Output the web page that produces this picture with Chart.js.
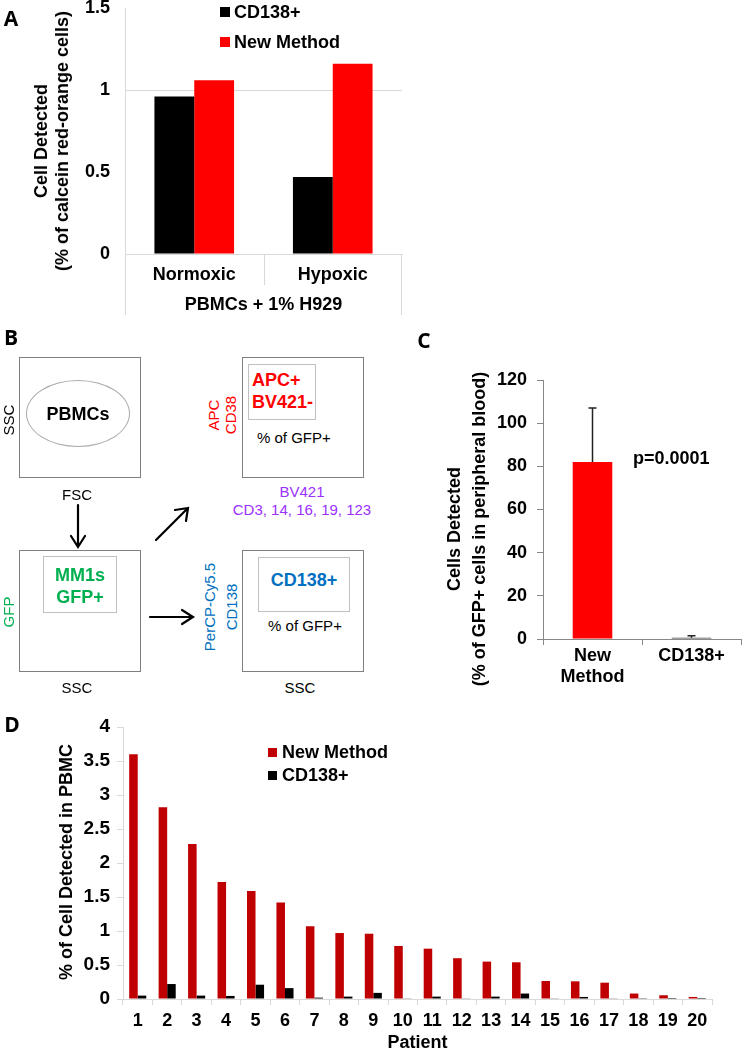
<!DOCTYPE html>
<html>
<head>
<meta charset="utf-8">
<script src="https://cdn.jsdelivr.net/npm/chart.js@4.4.1/dist/chart.umd.min.js"></script>
<style>
body { margin: 0; background: #fff; }
#page { position: relative; width: 743px; height: 1050px; overflow: hidden; background: #fff;
        font-family: 'Liberation Sans', Arial, sans-serif; color: #000; }
canvas { position: absolute; }
svg { position: absolute; left: 0; top: 0; }
.t { position: absolute; white-space: nowrap; line-height: 1; }
.b { font-weight: bold; font-size: 18px; }
.s { font-size: 15px; }
.c { transform: translate(-50%, -50%); text-align: center; }
.l { transform: translate(0, -50%); }
.r { transform: translate(-50%, -50%) rotate(-90deg); text-align: center; }
.letter { font-family: 'Open Sans', sans-serif; font-weight: bold; font-size: 21px; }
.box { position: absolute; border: 1.5px solid #7f7f7f; box-sizing: border-box; }
.gate { position: absolute; border: 1.5px solid #c0c0c0; box-sizing: border-box; }
.sw { position: absolute; width: 10px; height: 10px; }
</style>
</head>
<body>
<div id="page">
  <canvas id="chartA" width="410" height="340" style="left:0;top:-20px"></canvas>
  <canvas id="chartC" width="343" height="350" style="left:400px;top:350px"></canvas>
  <canvas id="chartD" width="743" height="356" style="left:0;top:700px"></canvas>

  <!-- panel letters -->
  <div class="t c letter" style="left:11px;top:18px">A</div>
  <div class="t c letter" style="left:11px;top:337px">B</div>
  <div class="t c letter" style="left:424px;top:340px">C</div>
  <div class="t c letter" style="left:12px;top:724px">D</div>

  <!-- A: axis title + legend -->
  <div class="t r b" style="left:52px;top:141px;line-height:21px">Cell Detected<br>(% of calcein red-orange cells)</div>
  <div class="sw" style="left:220px;top:7px;background:#000"></div>
  <div class="t l b" style="left:234px;top:12px">CD138+</div>
  <div class="sw" style="left:220px;top:37px;background:#ff0000"></div>
  <div class="t l b" style="left:234px;top:42px">New Method</div>

  <!-- B: gating diagram -->
  <div class="box" style="left:19px;top:357px;width:122px;height:121px"></div>
  <div style="position:absolute;left:26px;top:380px;width:104px;height:67px;border:1px solid #aaa;border-radius:50%;box-sizing:border-box"></div>
  <div class="t c b" style="left:78px;top:414px">PBMCs</div>
  <div class="t r s" style="left:8px;top:420px">SSC</div>
  <div class="t c s" style="left:77px;top:494px">FSC</div>

  <div class="box" style="left:19px;top:550px;width:122px;height:122px"></div>
  <div class="gate" style="left:43px;top:556px;width:74px;height:57px"></div>
  <div class="t c b" style="left:80px;top:586px;line-height:22px;color:#00b050">MM1s<br>GFP+</div>
  <div class="t r s" style="left:8px;top:612px;color:#00b050">GFP</div>
  <div class="t c s" style="left:77px;top:687px">SSC</div>

  <div class="box" style="left:242px;top:357px;width:122px;height:121px"></div>
  <div class="gate" style="left:248px;top:364px;width:68px;height:56px"></div>
  <div class="t b" style="left:252px;top:380px;line-height:22px;color:#ff0000;transform:translate(0,-11px)">APC+<br>BV421-</div>
  <div class="t l s" style="left:257px;top:437px">% of GFP+</div>
  <div class="t r s" style="left:222px;top:415px;line-height:17px;color:#ff0000">APC<br>CD38</div>
  <div class="t c s" style="left:302px;top:501px;line-height:18px;color:#9b30ff">BV421<br>CD3, 14, 16, 19, 123</div>

  <div class="box" style="left:242px;top:550px;width:122px;height:122px"></div>
  <div class="gate" style="left:258px;top:557px;width:92px;height:55px"></div>
  <div class="t c b" style="left:304px;top:580px;color:#0070c0">CD138+</div>
  <div class="t c s" style="left:305px;top:625px">% of GFP+</div>
  <div class="t r s" style="left:221px;top:607px;line-height:22px;color:#0070c0">PerCP-Cy5.5<br>CD138</div>
  <div class="t c s" style="left:300px;top:687px">SSC</div>

  <svg width="743" height="1050" viewBox="0 0 743 1050">
    <g stroke="#000" stroke-width="2.2" fill="none" stroke-linecap="round">
      <path d="M78 505 L78 546 M71 536 L78 547 L85 536"/>
      <path d="M156 540 L188 508 M175 510 L188 508 L186 521"/>
      <path d="M150 617 L192 617 M182 610 L193 617 L182 624"/>
    </g>
  </svg>

  <!-- C: axis title + p value -->
  <div class="t r b" style="left:467px;top:529px;line-height:25px">Cells Detected<br>(% of GFP+ cells in peripheral blood)</div>
  <div class="t l b" style="left:633px;top:458px">p=0.0001</div>

  <!-- D: axis title + legend -->
  <div class="t r b" style="left:66px;top:862px">% of Cell Detected in PBMC</div>
  <div class="sw" style="left:268px;top:748px;width:9px;height:9px;background:#c00000"></div>
  <div class="t l b" style="left:282px;top:752px">New Method</div>
  <div class="sw" style="left:268px;top:771px;width:9px;height:9px;background:#000"></div>
  <div class="t l b" style="left:282px;top:775px">CD138+</div>
</div>

<script>
// Panel A data
const condA = ['Normoxic', 'Hypoxic']
const cd138A = [0.96, 0.47]
const newMethodA = [1.06, 1.16]
const ticksA = [0, 0.5, 1, 1.5]

// Panel C data
const methodsC = [['New', 'Method'], 'CD138+']
const valuesC = [82, 0.6]
const errorsC = [25, 0.9]
const ticksC = [0, 20, 40, 60, 80, 100, 120]

// Panel D data
const patients = ['1', '2', '3', '4', '5', '6', '7', '8', '9', '10',
    '11', '12', '13', '14', '15', '16', '17', '18', '19', '20']
const newMethodD = [3.60, 2.82, 2.28, 1.72, 1.59, 1.42, 1.07, 0.97, 0.96, 0.78,
    0.74, 0.60, 0.55, 0.54, 0.265, 0.26, 0.24, 0.08, 0.055, 0.03]
const cd138D = [0.05, 0.22, 0.05, 0.045, 0.21, 0.16, 0.02, 0.035, 0.09, 0.01,
    0.035, 0.005, 0.035, 0.08, 0.01, 0.03, 0.01, 0.003, 0.015, 0.015]
const ticksD = [0, 0.5, 1, 1.5, 2, 2.5, 3, 3.5, 4]

Chart.defaults.font.family = "'Liberation Sans', Arial, sans-serif"
Chart.defaults.color = '#000'
Chart.defaults.animation = false
Chart.defaults.plugins.legend.display = false
Chart.defaults.plugins.tooltip.enabled = false

const boldFont = { size: 18, weight: 'bold' }
const useTicks = list => scale => { scale.ticks = list.map(v => ({ value: v })) }
const plain = v => String(v)

// category separators under the x axis of panel A
const catLinesA = {
    id: 'catLinesA',
    afterDraw(chart) {
        const { ctx, chartArea: a, scales: { x } } = chart
        const mid = Math.round((x.getPixelForValue(0) + x.getPixelForValue(1)) / 2) + 0.5
        const l = Math.round(a.left) + 0.5, r = Math.round(a.right) - 0.5
        ctx.save()
        ctx.strokeStyle = '#d9d9d9'
        ctx.lineWidth = 1
        ctx.beginPath()
        ctx.moveTo(l, a.bottom); ctx.lineTo(l, a.bottom + 61)
        ctx.moveTo(mid, a.bottom); ctx.lineTo(mid, a.bottom + 31)
        ctx.moveTo(r, a.bottom); ctx.lineTo(r, a.bottom + 61)
        ctx.stroke()
        ctx.restore()
    }
}

// upper error bars for panel C
const errorBarsC = {
    id: 'errorBarsC',
    afterDatasetsDraw(chart) {
        const { ctx, scales: { y } } = chart
        ctx.save()
        ctx.strokeStyle = '#222'
        ctx.lineWidth = 1.5
        chart.getDatasetMeta(0).data.forEach((bar, i) => {
            const top = y.getPixelForValue(valuesC[i] + errorsC[i])
            ctx.beginPath()
            ctx.moveTo(bar.x, bar.y); ctx.lineTo(bar.x, top)
            ctx.moveTo(bar.x - 4, top); ctx.lineTo(bar.x + 4, top)
            ctx.stroke()
        })
        ctx.restore()
    }
}

// Chart A
new Chart(document.getElementById('chartA'), {
    type: 'bar',
    data: {
        labels: condA,
        datasets: [
            { label: 'CD138+', data: cd138A, backgroundColor: '#000000' },
            { label: 'New Method', data: newMethodA, backgroundColor: '#ff0000' }
        ]
    },
    options: {
        responsive: false,
        layout: { padding: { top: 28, right: 8, left: 0, bottom: 0 } },
        datasets: { bar: { categoryPercentage: 0.575, barPercentage: 1 } },
        scales: {
            x: {
                grid: { display: false, drawTicks: false },
                border: { color: '#d9d9d9' },
                ticks: { font: boldFont, padding: 10, maxRotation: 0 },
                title: { display: true, text: 'PBMCs + 1% H929', font: boldFont, padding: { top: 0, bottom: 4 } },
                afterFit: s => { s.height = 66 }
            },
            y: {
                min: 0, max: 1.5,
                afterBuildTicks: useTicks(ticksA),
                ticks: { font: boldFont, padding: 15, callback: plain },
                grid: { drawTicks: false, color: c => c.tick && c.tick.value === 1 ? '#d9d9d9' : 'rgba(0,0,0,0)' },
                border: { color: '#d9d9d9' },
                afterFit: s => { s.width = 125 }
            }
        }
    },
    plugins: [catLinesA]
})

// Chart C
new Chart(document.getElementById('chartC'), {
    type: 'bar',
    data: {
        labels: methodsC,
        datasets: [{ data: valuesC, backgroundColor: ['#ff0000', '#404040'] }]
    },
    options: {
        responsive: false,
        layout: { padding: { top: 30, right: 2, left: 0, bottom: 0 } },
        datasets: { bar: { categoryPercentage: 1, barPercentage: 0.4 } },
        scales: {
            x: {
                grid: { drawOnChartArea: false, tickLength: 6, color: '#888' },
                border: { color: '#888' },
                ticks: { font: boldFont, padding: 0, maxRotation: 0 },
                afterFit: s => { s.height = 61 }
            },
            y: {
                min: 0, max: 120,
                afterBuildTicks: useTicks(ticksC),
                ticks: { font: boldFont, padding: 10, callback: plain },
                grid: { drawOnChartArea: false, tickLength: 6, color: '#888' },
                border: { color: '#888' },
                afterFit: s => { s.width = 143 }
            }
        }
    },
    plugins: [errorBarsC]
})

// Chart D
new Chart(document.getElementById('chartD'), {
    type: 'bar',
    data: {
        labels: patients,
        datasets: [
            { label: 'New Method', data: newMethodD, backgroundColor: '#c00000' },
            { label: 'CD138+', data: cd138D, backgroundColor: '#000000' }
        ]
    },
    options: {
        responsive: false,
        layout: { padding: { top: 27, right: 31, left: 0, bottom: 0 } },
        datasets: { bar: { categoryPercentage: 0.58, barPercentage: 1 } },
        scales: {
            x: {
                grid: { drawOnChartArea: false, tickLength: 6, color: '#d9d9d9' },
                border: { color: '#d9d9d9' },
                ticks: { font: boldFont, padding: 5, maxRotation: 0, autoSkip: false },
                title: { display: true, text: 'Patient', font: boldFont, padding: { top: 0, bottom: 2 } },
                afterFit: s => { s.height = 57 }
            },
            y: {
                min: 0, max: 4,
                afterBuildTicks: useTicks(ticksD),
                ticks: { font: { size: 19, weight: 'bold' }, padding: 7, callback: plain },
                grid: { drawOnChartArea: false, tickLength: 6, color: '#d9d9d9' },
                border: { color: '#d9d9d9' },
                afterFit: s => { s.width = 123 }
            }
        }
    }
})
</script>
</body>
</html>
